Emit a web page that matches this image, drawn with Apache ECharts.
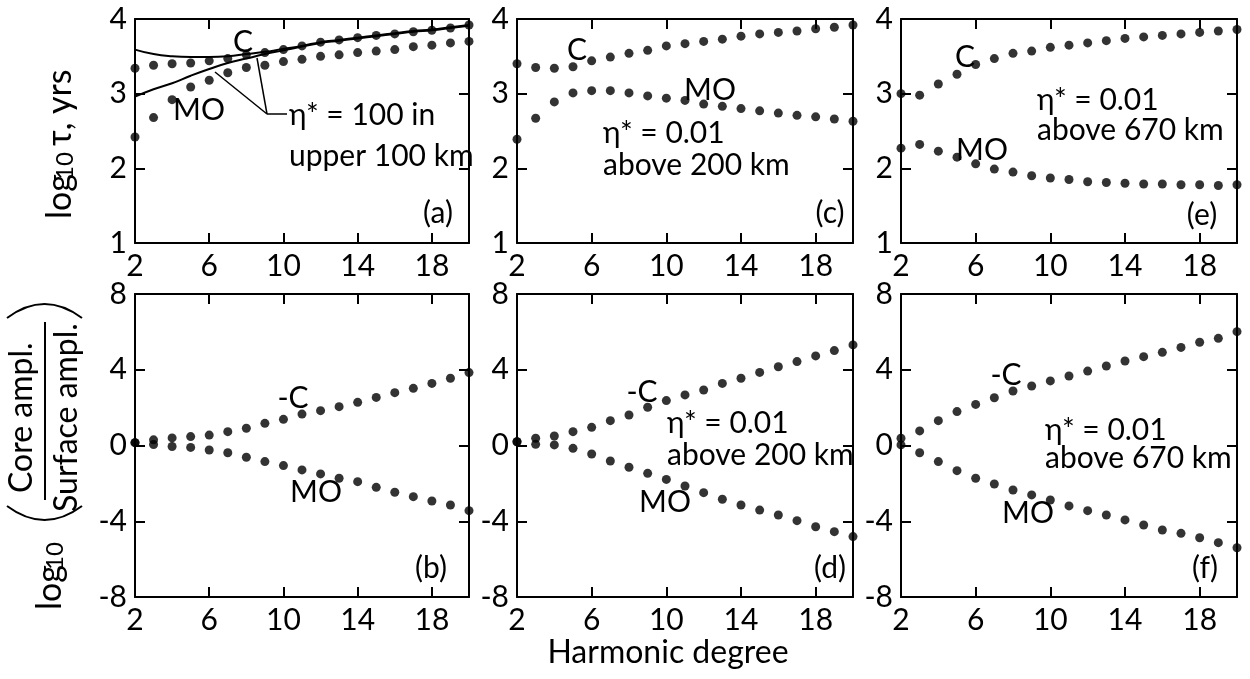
<!DOCTYPE html>
<html>
<head>
<meta charset="utf-8">
<title>Relaxation times and amplitude ratios vs harmonic degree</title>
<script src="https://cdn.jsdelivr.net/npm/echarts/dist/echarts.min.js"></script>
<style>
  html, body { margin: 0; padding: 0; background: #fff; }
  #chart { width: 1250px; height: 679px; }
</style>
</head>
<body>
<div id="chart"></div>
<script>
// harmonic degrees 2..20
const degrees = [2, 3, 4, 5, 6, 7, 8, 9, 10, 11, 12, 13, 14, 15, 16, 17, 18, 19, 20];
const xTickLabels = [2, 6, 10, 14, 18];
const xInnerTicks = [6, 10, 14, 18];

// (a) log10 tau, eta* = 100 in upper 100 km (dots) plus two solid curves
const aC  = [3.34, 3.38, 3.40, 3.41, 3.44, 3.47, 3.52, 3.55, 3.59, 3.64, 3.69, 3.72, 3.75, 3.78, 3.80, 3.83, 3.85, 3.88, 3.92];
const aMO = [2.42, 2.68, 2.92, 3.09, 3.18, 3.28, 3.35, 3.38, 3.43, 3.46, 3.50, 3.52, 3.55, 3.57, 3.59, 3.63, 3.65, 3.68, 3.70];
const aCurveC  = [3.59, 3.53, 3.50, 3.49, 3.49, 3.50, 3.53, 3.56, 3.60, 3.64, 3.69, 3.72, 3.75, 3.78, 3.81, 3.84, 3.86, 3.89, 3.92];
const aCurveMO = [2.96, 3.06, 3.14, 3.24, 3.33, 3.41, 3.47, 3.53, 3.58, 3.63, 3.68, 3.71, 3.74, 3.77, 3.80, 3.83, 3.85, 3.88, 3.91];
// (c) eta* = 0.01 above 200 km
const cC  = [3.40, 3.35, 3.34, 3.36, 3.44, 3.49, 3.54, 3.58, 3.64, 3.67, 3.70, 3.73, 3.77, 3.80, 3.82, 3.84, 3.87, 3.89, 3.92];
const cMO = [2.39, 2.67, 2.89, 3.01, 3.04, 3.04, 3.01, 2.97, 2.94, 2.91, 2.86, 2.83, 2.80, 2.77, 2.74, 2.71, 2.69, 2.66, 2.63];
// (e) eta* = 0.01 above 670 km
const eC  = [3.00, 2.98, 3.13, 3.26, 3.39, 3.47, 3.54, 3.57, 3.62, 3.65, 3.68, 3.71, 3.74, 3.76, 3.78, 3.80, 3.82, 3.84, 3.86];
const eMO = [2.27, 2.32, 2.23, 2.15, 2.06, 1.99, 1.95, 1.90, 1.87, 1.85, 1.82, 1.81, 1.80, 1.79, 1.79, 1.78, 1.78, 1.77, 1.78];
// (b), (d), (f) log10 core/surface amplitude
const bC  = [0.15, 0.30, 0.40, 0.47, 0.55, 0.73, 0.91, 1.17, 1.38, 1.66, 1.84, 2.05, 2.28, 2.54, 2.79, 3.02, 3.28, 3.55, 3.85];
const bMO = [0.15, 0.05, -0.05, -0.10, -0.24, -0.38, -0.62, -0.85, -1.06, -1.29, -1.50, -1.73, -1.91, -2.21, -2.47, -2.70, -2.93, -3.14, -3.44];
const dC  = [0.20, 0.38, 0.50, 0.73, 0.96, 1.31, 1.61, 2.02, 2.37, 2.67, 2.93, 3.28, 3.55, 3.86, 4.16, 4.43, 4.73, 5.01, 5.31];
const dMO = [0.20, 0.06, 0.03, -0.15, -0.45, -0.82, -1.15, -1.47, -1.79, -2.14, -2.49, -2.84, -3.14, -3.41, -3.67, -3.97, -4.29, -4.55, -4.81];
const fC  = [0.38, 0.77, 1.31, 1.79, 2.17, 2.52, 2.88, 3.14, 3.41, 3.67, 3.93, 4.20, 4.46, 4.69, 4.92, 5.18, 5.45, 5.66, 6.01];
const fMO = [0.03, -0.38, -0.85, -1.33, -1.73, -2.03, -2.35, -2.61, -2.88, -3.19, -3.44, -3.67, -3.93, -4.20, -4.46, -4.64, -4.87, -5.13, -5.40];

const INK = "#000";
const FONT = "Lato";

// panel boxes in pixels
const cols = [{ left: 135, width: 334 }, { left: 517, width: 336 }, { left: 901, width: 336 }];
const rows = [{ top: 19, height: 224, min: 1, max: 4, interval: 1 },
              { top: 294, height: 303, min: -8, max: 8, interval: 4 }];

const panels = [
  { col: 0, row: 0, dots: [aC, aMO], curves: [aCurveC, aCurveMO] },
  { col: 1, row: 0, dots: [cC, cMO] },
  { col: 2, row: 0, dots: [eC, eMO] },
  { col: 0, row: 1, dots: [bC, bMO] },
  { col: 1, row: 1, dots: [dC, dMO] },
  { col: 2, row: 1, dots: [fC, fMO] },
];

const pairs = (ys) => degrees.map((d, i) => [d, ys[i]]);

function axisLine() {
  return { show: true, onZero: false, lineStyle: { color: INK, width: 2 } };
}
function ticks(custom) {
  const t = { show: true, inside: true, length: 10, lineStyle: { color: INK, width: 2 } };
  if (custom) t.customValues = custom;
  return t;
}
function labels(custom, show) {
  const l = { show: show, color: INK, fontFamily: FONT, fontSize: 30 };
  if (custom) l.customValues = custom;
  return l;
}

const grid = [], xAxis = [], yAxis = [], series = [];

panels.forEach((p, i) => {
  const c = cols[p.col], r = rows[p.row];
  grid.push({ left: c.left, width: c.width, top: r.top, height: r.height });

  // first axis of a grid goes bottom / left, the second one top / right
  [true, false].forEach((primary) => {
    xAxis.push({
      type: "value", gridIndex: i, min: 2, max: 20,
      axisLine: axisLine(),
      axisTick: ticks(xInnerTicks),
      axisLabel: labels(xTickLabels, primary),
      splitLine: { show: false },
    });
    yAxis.push({
      type: "value", gridIndex: i, min: r.min, max: r.max, interval: r.interval,
      axisLine: axisLine(),
      axisTick: ticks(),
      axisLabel: labels(null, primary),
      splitLine: { show: false },
    });
  });

  (p.curves || []).forEach((ys) => {
    series.push({
      type: "line", xAxisIndex: 2 * i, yAxisIndex: 2 * i,
      data: pairs(ys), smooth: 0.5, showSymbol: false, symbol: "none",
      lineStyle: { color: INK, width: 2 }, z: 2, silent: true,
    });
  });
  p.dots.forEach((ys) => {
    series.push({
      type: "scatter", xAxisIndex: 2 * i, yAxisIndex: 2 * i,
      data: pairs(ys), symbol: "circle", symbolSize: 9,
      itemStyle: { color: INK }, z: 3, clip: false, silent: true,
    });
  });
});

// annotation text
function txt(text, x, y, align, size, extra) {
  return Object.assign({
    type: "text", x, y, silent: true,
    style: {
      text, fill: INK, font: (size || 30) + "px " + FONT,
      align: align || "center", verticalAlign: "middle",
      textAlign: align || "center", textVerticalAlign: "middle",
    },
  }, extra || {});
}
function vtxt(text, x, y, size) {
  // vertical text reading upward, starting at (x, y)
  return txt(text, x, y, "left", size, { rotation: Math.PI / 2 });
}
function seg(x1, y1, x2, y2, w) {
  return { type: "line", silent: true, shape: { x1, y1, x2, y2 }, style: { stroke: INK, lineWidth: w || 1.5 } };
}
function paren(x1, x2, y, bulge) {
  // big bracket drawn sideways: chord along x, bulging by `bulge` pixels in y
  return {
    type: "bezierCurve", silent: true,
    shape: { x1, y1: y, x2, y2: y, cpx1: (x1 + x2) / 2, cpy1: y + 2 * bulge },
    style: { stroke: INK, lineWidth: 2, fill: null },
  };
}

const graphic = [
  // (a)
  txt("C", 243, 42), txt("MO", 199, 110),
  txt("η* = 100 in", 289, 115, "left"), txt("upper 100 km", 289, 156, "left"),
  seg(287, 114, 267, 114), seg(267, 114, 215, 72), seg(267, 114, 257, 58),
  txt("(a)", 438, 213),
  // (c)
  txt("C", 577, 50), txt("MO", 710, 90),
  txt("η* = 0.01", 603, 133, "left"), txt("above 200 km", 603, 165, "left"),
  txt("(c)", 830, 213),
  // (e)
  txt("C", 965, 57), txt("MO", 982, 150),
  txt("η* = 0.01", 1037, 100, "left"), txt("above 670 km", 1037, 130, "left"),
  txt("(e)", 1202, 215),
  // (b)
  txt("-C", 293, 398), txt("MO", 316, 492), txt("(b)", 431, 568),
  // (d)
  txt("-C", 642, 392), txt("MO", 665, 502),
  txt("η* = 0.01", 667, 423, "left"), txt("above 200 km", 667, 455, "left"),
  txt("(d)", 830, 568),
  // (f)
  txt("-C", 1006, 375), txt("MO", 1028, 513),
  txt("η* = 0.01", 1045, 430, "left"), txt("above 670 km", 1045, 458, "left"),
  txt("(f)", 1205, 568),
  // x title
  txt("Harmonic degree", 668, 653, "center", 32),
  // top y title: log10 tau, yrs
  vtxt("log", 60, 219, 34), vtxt("10", 65, 180, 24), vtxt("τ, yrs", 60, 146, 34),
  // bottom y title: log10 (Core ampl. / Surface ampl.)
  vtxt("log", 50, 610, 34), vtxt("10", 55, 570, 24),
  paren(7, 82, 506, 14),
  vtxt("Core ampl.", 22, 493, 32),
  seg(45, 500, 45, 322, 2),
  vtxt("Surface ampl.", 67, 512, 32),
  paren(7, 82, 318, -14),
];

const chart = echarts.init(document.getElementById("chart"), null, { renderer: "canvas" });
chart.setOption({
  backgroundColor: "#ffffff",
  animation: false,
  grid, xAxis, yAxis, series, graphic,
});
</script>
</body>
</html>
